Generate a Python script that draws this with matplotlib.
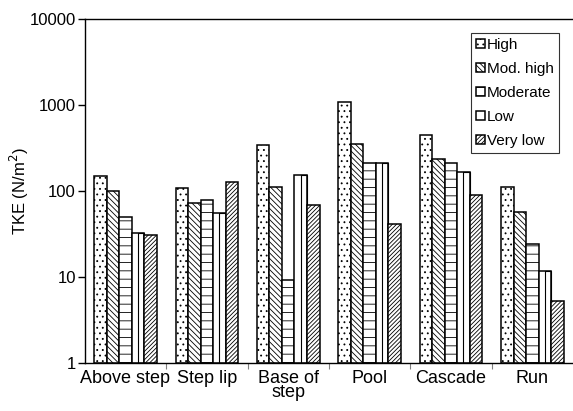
import numpy as np
import matplotlib
matplotlib.use("Agg")
from matplotlib import pyplot as plt
from matplotlib.ticker import FixedLocator, NullFormatter

plt.rcParams['font.family'] = ['Liberation Sans', 'DejaVu Sans']
plt.rcParams['hatch.linewidth'] = 0.6

# data
kategooriad = ["Above step", "Step lip", "Base of\nstep", "Pool", "Cascade", "Run"]
seeriad = ["High", "Mod. high", "Moderate", "Low", "Very low"]
high = [147, 107, 345, 1090, 448, 109]
mod_high = [98, 72, 109, 349, 236, 56]
moderate = [49, 78, 8.2, 210, 210, 23]
low = [31, 55, 152, 210, 163, 10.7]
very_low = [30, 126, 68, 40, 88, 4.3]

vaartused = [high, mod_high, moderate, low, very_low]
mustrid = ['...', '\\\\\\\\\\\\', '--', None, '////////']

fig = plt.figure(figsize=(5.73, 4.11), dpi=100)
ax = fig.add_axes([0.148, 0.117, 0.852, 0.837])

x = np.arange(len(kategooriad))
laius = 0.154
for i, (nimi, v) in enumerate(zip(seeriad, vaartused)):
    pos = x - 2 * laius + i * laius
    ax.bar(pos, v, width=laius, bottom=1, color='white', edgecolor='black',
           linewidth=1.1, hatch=mustrid[i], label=nimi)
    if nimi == "Low":
        # keskmine joon "Low" tulpades
        ax.bar(pos, v, width=laius / 2, bottom=1, align='edge', fill=False,
               edgecolor='black', linewidth=0.8)

ax.set_yscale('log')
ax.set_ylim(1, 10000)
ax.set_xlim(-0.5, len(kategooriad) - 0.5)
ax.set_yticks([1, 10, 100, 1000, 10000])
ax.set_yticklabels(["1", "10", "100", "1000", "10000"], fontsize=12)
ax.yaxis.set_minor_locator(FixedLocator([]))
ax.set_ylabel("TKE (N/m$^2$)", fontsize=12)
ax.yaxis.set_label_coords(-0.11, 0.5)

ax.set_xticks(x)
ax.set_xticklabels(kategooriad, fontsize=13, linespacing=0.8)
ax.tick_params(axis='x', which='major', length=0, pad=5)
ax.xaxis.set_minor_locator(FixedLocator(x[:-1] + 0.5))
ax.xaxis.set_minor_formatter(NullFormatter())
ax.tick_params(axis='x', which='minor', length=4, width=0.8, color='gray')
ax.tick_params(axis='y', which='major', length=5, width=1, pad=1.5)

ax.spines['right'].set_visible(False)
for s in ['left', 'top', 'bottom']:
    ax.spines[s].set_linewidth(1.0)

leg = ax.legend(loc='upper right', bbox_to_anchor=(0.972, 0.96), fontsize=11,
                frameon=True, fancybox=False, edgecolor='black',
                handlelength=0.55, handleheight=0.55, handletextpad=0.15,
                labelspacing=0.65, borderpad=0.35, borderaxespad=0)
leg.get_frame().set_linewidth(0.8)

fig.savefig("out.png", dpi=100)
